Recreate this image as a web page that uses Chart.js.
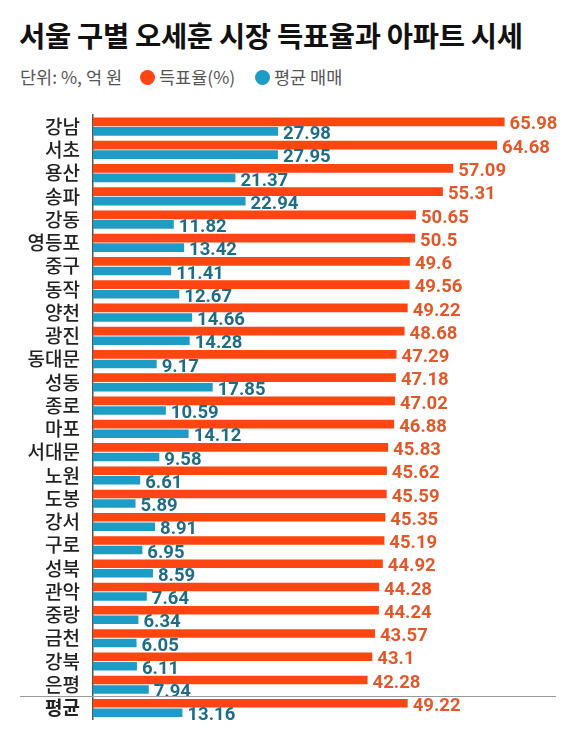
<!DOCTYPE html>
<html>
<head>
<meta charset="utf-8">
<script src="https://cdn.jsdelivr.net/npm/chart.js@4"></script>
<style>
  body { margin: 0; background: #fff; }
  #wrap { position: relative; width: 576px; height: 744px; }
  #title {
    position: absolute; left: 19px; top: 19px;
    font: bold 28.5px "Noto Sans CJK KR", sans-serif; line-height: 1.1;
    color: #111; letter-spacing: -0.3px; white-space: nowrap;
  }
  .leg {
    position: absolute; top: 65px;
    font: 17.5px "Noto Sans CJK KR", sans-serif; line-height: 24px;
    color: #555; white-space: nowrap;
  }
  .dot {
    position: absolute; top: 70px; width: 15px; height: 15px; border-radius: 50%;
  }
  canvas { position: absolute; left: 0; top: 0; }
</style>
</head>
<body>
<div id="wrap">
  <div id="title">서울 구별 오세훈 시장 득표율과 아파트 시세</div>
  <div class="leg" style="left:20px">단위: %, 억 원</div>
  <div class="dot" style="left:140px;background:#ff4511"></div>
  <div class="leg" style="left:159px">득표율(%)</div>
  <div class="dot" style="left:255px;background:#1d9cc5"></div>
  <div class="leg" style="left:274px">평균 매매</div>
  <canvas id="chart" width="576" height="744"></canvas>
</div>
<script>
// data
const districts = ["강남", "서초", "용산", "송파", "강동", "영등포", "중구", "동작", "양천", "광진",
  "동대문", "성동", "종로", "마포", "서대문", "노원", "도봉", "강서", "구로", "성북",
  "관악", "중랑", "금천", "강북", "은평", "평균"];
const voteShare = [65.98, 64.68, 57.09, 55.31, 50.65, 50.5, 49.6, 49.56, 49.22, 48.68,
  47.29, 47.18, 47.02, 46.88, 45.83, 45.62, 45.59, 45.35, 45.19, 44.92,
  44.28, 44.24, 43.57, 43.1, 42.28, 49.22];
const avgPrice = [27.98, 27.95, 21.37, 22.94, 11.82, 13.42, 11.41, 12.67, 14.66, 14.28,
  9.17, 17.85, 10.59, 14.12, 9.58, 6.61, 5.89, 8.91, 6.95, 8.59,
  7.64, 6.34, 6.05, 6.11, 7.94, 13.16];

const orange = "#ff4511";
const blue = "#1d9cc5";
const labelColors = ["#e2582a", "#1e6c87"];

// value labels next to bars
const valueLabels = {
  id: "valueLabels",
  afterDatasetsDraw(chart) {
    const c = chart.ctx;
    c.save();
    c.font = "bold 18.5px Roboto, sans-serif";
    c.textBaseline = "middle";
    c.textAlign = "left";
    chart.data.datasets.forEach((ds, i) => {
      c.fillStyle = labelColors[i];
      chart.getDatasetMeta(i).data.forEach((bar, j) => {
        c.fillText(String(ds.data[j]), bar.x + 5, bar.y + 3);
      });
    });
    c.restore();
  }
};

// line above the average row
const avgLine = {
  id: "avgLine",
  afterDraw(chart) {
    const y = chart.scales.y;
    const py = (y.getPixelForValue(24) + y.getPixelForValue(25)) / 2;
    const c = chart.ctx;
    c.save();
    c.strokeStyle = "#9a9a9a";
    c.lineWidth = 1;
    c.beginPath();
    c.moveTo(20, Math.round(py) + 0.5);
    c.lineTo(556, Math.round(py) + 0.5);
    c.stroke();
    c.restore();
  }
};

new Chart(document.getElementById("chart"), {
  type: "bar",
  data: {
    labels: districts,
    datasets: [
      {
        label: "득표율(%)",
        data: voteShare,
        backgroundColor: orange,
        xAxisID: "x",
        base: -5.2,
      },
      {
        label: "평균 매매",
        data: avgPrice,
        backgroundColor: blue,
        xAxisID: "x2",
        base: -0.7,
      },
    ],
  },
  options: {
    indexAxis: "y",
    responsive: false,
    animation: false,
    categoryPercentage: 0.82,
    barPercentage: 0.9,
    layout: { padding: { top: 115, bottom: 11, right: 10, left: 0 } },
    plugins: {
      legend: { display: false },
      tooltip: { enabled: false },
    },
    scales: {
      x: { display: false, min: -5.2, max: 76.6 },
      x2: { display: false, min: -0.7, max: 72.6 },
      y: {
        grid: { display: false, drawTicks: false },
        border: { display: true, color: "#555", width: 1.5 },
        ticks: {
          autoSkip: false,
          color: "#222",
          padding: 13,
          font: (ctx) => ({
            family: "'Noto Sans CJK KR', sans-serif",
            size: 19,
            weight: ctx.index === districts.length - 1 ? "bold" : "500",
          }),
        },
        afterFit(scale) { scale.width = 93; },
      },
    },
  },
  plugins: [valueLabels, avgLine],
});
</script>
</body>
</html>
